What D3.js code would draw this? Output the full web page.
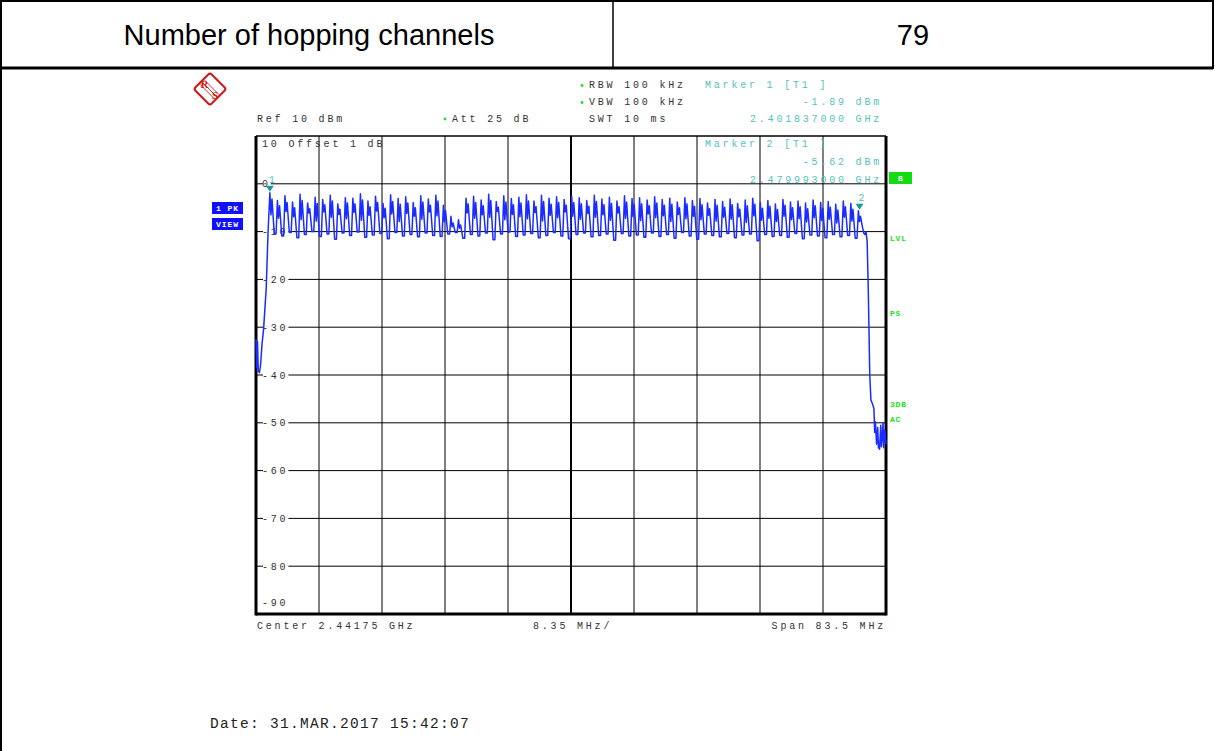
<!DOCTYPE html>
<html>
<head>
<meta charset="utf-8">
<script src="https://cdn.jsdelivr.net/npm/d3@7"></script>
<style>
  html, body { margin: 0; padding: 0; background: #fff; }
  svg { display: block; }
  .mono { font-family: "Liberation Mono", "DejaVu Sans Mono", monospace; font-size: 10px; letter-spacing: 2.8px; }
</style>
</head>
<body>
<svg id="chart" width="1215" height="751"></svg>
<script>
// ---------------- data ----------------
const headerLabels = ["Number of hopping channels", "79"];
const refLevel = 10, bottomLevel = -90;
const startFreq = 2400.0, stopFreq = 2483.5;         // MHz
const firstChannel = 2402;                            // MHz, 1 MHz spacing
const yTickValues = [10, 0, -10, -20, -30, -40, -50, -60, -70, -80, -90];
const yTickLabels = ["10", "0", "-10", "-20", "-30", "-40", "-50", "-60", "-70", "-80", "-90"];

// leading edge below the first channel [MHz, dBm]
const leadFreq = [2400.0, 2400.1, 2400.2, 2400.3, 2400.45, 2400.6, 2400.8, 2401.0, 2401.35, 2401.6];
const leadLevel = [-32.5, -38.5, -33.0, -39.2, -39.5, -38.0, -33.5, -30.5, -22.0, -10.0];

// per-channel peak-hold levels (79 channels)
const chanPeak = [-1.89,-3.5,-2.5,-3.8,-2.2,-4.0,-2.8,-3.3,-2.4,-4.2,
  -2.9,-3.0,-2.1,-3.6,-2.6,-4.1,-2.3,-3.1,-2.7,-3.9,
  -2.5,-3.2,-2.4,-4.5,-6.8,-7.5,-3.0,-2.6,-3.4,-2.2,
  -3.7,-2.5,-3.1,-2.8,-2.3,-3.6,-2.4,-3.0,-2.7,-3.3,
  -2.6,-2.9,-3.5,-2.4,-3.2,-2.8,-3.6,-2.5,-3.1,-2.9,
  -3.4,-2.7,-3.3,-3.0,-3.8,-2.9,-3.5,-3.1,-4.0,-3.3,
  -3.7,-3.2,-4.1,-3.4,-3.0,-3.9,-3.5,-4.2,-3.3,-3.8,
  -3.6,-4.0,-3.4,-3.9,-3.7,-4.3,-3.6,-4.1,-5.62];
// notch between the two humps of each channel
const chanMid = [-6.5,-7.2,-5.8,-6.9,-7.5,-6.1,-7.8,-5.9,-7.0,-6.4,
  -7.3,-6.0,-7.6,-6.6,-5.7,-7.1,-6.3,-7.9,-6.2,-6.8,
  -7.4,-5.9,-6.7,-8.0,-9.0,-9.3,-6.1,-7.2,-6.5,-7.0,
  -5.8,-7.5,-6.4,-6.9,-7.3,-6.0,-7.8,-6.6,-7.1,-5.9,
  -6.8,-7.4,-6.2,-7.0,-6.5,-7.6,-6.1,-7.2,-6.9,-7.7,
  -6.3,-7.1,-6.7,-7.9,-6.4,-7.3,-6.8,-7.5,-6.6,-7.8,
  -7.0,-7.4,-6.9,-8.1,-6.7,-7.6,-7.2,-7.9,-6.8,-7.5,
  -7.3,-8.0,-7.1,-7.7,-7.4,-8.2,-7.0,-7.8,-7.9];
// second hump of each channel
const chanKnee = [-3.2,-4.6,-3.9,-5.0,-3.5,-5.2,-4.1,-4.4,-3.6,-5.3,
  -4.0,-4.2,-3.4,-4.8,-3.9,-5.1,-3.7,-4.3,-4.0,-5.0,
  -3.8,-4.5,-3.6,-5.6,-8.2,-8.6,-4.2,-3.9,-4.6,-3.5,
  -4.9,-3.8,-4.4,-4.0,-3.6,-4.8,-3.7,-4.3,-3.9,-4.5,
  -3.9,-4.2,-4.7,-3.7,-4.4,-4.1,-4.8,-3.8,-4.3,-4.2,
  -4.6,-4.0,-4.5,-4.3,-5.0,-4.2,-4.7,-4.4,-5.2,-4.5,
  -4.9,-4.4,-5.3,-4.6,-4.3,-5.1,-4.7,-5.4,-4.5,-5.0,
  -4.8,-5.2,-4.6,-5.1,-4.9,-5.5,-4.8,-5.3,-6.8];
// level between adjacent channels (78 gaps)
const chanGap = [-10.4,-10.9,-10.2,-11.3,-10.6,-10.0,-11.0,-10.5,-11.6,-10.3,
  -10.8,-10.1,-11.2,-10.7,-10.4,-11.5,-10.2,-10.9,-10.6,-11.1,
  -10.3,-10.8,-11.0,-10.5,-10.2,-11.4,-10.6,-10.9,-10.3,-11.7,
  -10.5,-10.1,-11.0,-10.7,-10.4,-11.3,-10.8,-10.2,-10.9,-11.5,
  -10.6,-10.3,-11.1,-10.8,-10.5,-11.8,-10.4,-10.9,-10.7,-11.2,
  -10.3,-11.0,-10.6,-11.4,-10.2,-10.9,-11.6,-10.5,-10.8,-11.1,
  -10.4,-11.3,-10.7,-10.5,-11.9,-10.6,-11.0,-10.8,-11.2,-10.4,
  -11.5,-10.7,-10.9,-11.3,-10.6,-11.1,-10.8,-11.4];

// trailing edge above the last channel [MHz, dBm]
const trailFreq = [2480.35, 2480.55, 2480.7, 2480.85, 2481.0, 2481.15, 2481.35, 2481.5, 2481.7, 2481.9,
  2482.0, 2482.1, 2482.25, 2482.4, 2482.5, 2482.65, 2482.8, 2482.9, 2483.0, 2483.1, 2483.2, 2483.35, 2483.5];
const trailLevel = [-8.8, -10.3, -10.6, -10.0, -12.0, -22.0, -40.0, -45.2, -46.0, -47.0,
  -52.0, -49.8, -54.5, -51.0, -55.2, -55.5, -50.5, -55.0, -53.0, -50.0, -55.2, -51.5, -54.5];

// markers
const markerNames = ["1", "2"];
const markerFreq = [2401.837, 2479.993];
const markerLevel = [-1.89, -5.62];

// annotation texts
const topLeft = ["Ref  10 dBm"];
const settings = ["RBW 100 kHz", "VBW 100 kHz", "SWT 10 ms"];
const marker1Text = ["Marker 1 [T1 ]", "-1.89 dBm", "2.401837000 GHz"];
const marker2Text = ["Marker 2 [T1 ]", "-5.62 dBm", "2.479993000 GHz"];
const attText = "Att  25 dB";
const offsetText = "10 Offset  1 dB";
const bottomTexts = ["Center 2.44175 GHz", "8.35 MHz/", "Span 83.5 MHz"];
const sideTags = ["LVL", "PS", "3DB", "AC"];
const dateText = "Date: 31.MAR.2017  15:42:07";

// ---------------- drawing ----------------
const svg = d3.select("#chart");
const plot = { left: 256, right: 886, top: 136, bottom: 614 };
const x = d3.scaleLinear().domain([startFreq, stopFreq]).range([plot.left, plot.right]);
const y = d3.scaleLinear().domain([bottomLevel, refLevel]).range([plot.bottom, plot.top]);

// table frame
svg.append("rect").attr("x", 1).attr("y", 1).attr("width", 1212).attr("height", 67)
  .attr("fill", "none").attr("stroke", "#000").attr("stroke-width", 2);
svg.append("line").attr("x1", 613).attr("x2", 613).attr("y1", 1).attr("y2", 68)
  .attr("stroke", "#000").attr("stroke-width", 1.5);
svg.append("line").attr("x1", 1).attr("x2", 1).attr("y1", 1).attr("y2", 751)
  .attr("stroke", "#000").attr("stroke-width", 2);
svg.append("line").attr("x1", 1).attr("x2", 1213).attr("y1", 68).attr("y2", 68)
  .attr("stroke", "#000").attr("stroke-width", 3);
svg.append("text").attr("x", 309).attr("y", 45).attr("text-anchor", "middle")
  .attr("font-family", "Liberation Sans, Arial, sans-serif").attr("font-size", 29)
  .text(headerLabels[0]);
svg.append("text").attr("x", 913).attr("y", 45).attr("text-anchor", "middle")
  .attr("font-family", "Liberation Sans, Arial, sans-serif").attr("font-size", 29)
  .text(headerLabels[1]);

// R&S logo
const red = "#d01818";
const logo = svg.append("g").attr("transform", "translate(210,89)");
logo.append("rect").attr("x", -11.5).attr("y", -11.5).attr("width", 23).attr("height", 23).attr("rx", 2.5)
  .attr("transform", "rotate(45)").attr("fill", "#fff").attr("stroke", red).attr("stroke-width", 2);
[-2.2, 0, 2.2].forEach(o => logo.append("line")
  .attr("x1", -8 + o).attr("y1", -7 - o).attr("x2", 7 + o).attr("y2", 8 - o)
  .attr("stroke", red).attr("stroke-width", 0.9));
logo.append("text").attr("x", -5.5).attr("y", -1).attr("text-anchor", "middle").attr("font-weight", "bold")
  .attr("font-family", "Liberation Serif, serif").attr("font-size", 11).attr("fill", red).text("R");
logo.append("text").attr("x", 5).attr("y", 10).attr("text-anchor", "middle").attr("font-weight", "bold")
  .attr("font-family", "Liberation Serif, serif").attr("font-size", 11).attr("fill", red).text("S");

// header annotation texts
const dark = "#333";
const teal = "#55bfc0";
const green = "#22dd22";
svg.append("text").attr("class", "mono").attr("x", 257).attr("y", 122).attr("fill", dark).text(topLeft[0]);
svg.append("text").attr("class", "mono").attr("x", 452).attr("y", 122).attr("fill", dark).text(attText);
svg.append("circle").attr("cx", 445).attr("cy", 119).attr("r", 1.4).attr("fill", green);
const setY = [88, 105, 122];
settings.forEach((t, i) => {
  svg.append("text").attr("class", "mono").attr("x", 589).attr("y", setY[i]).attr("fill", dark).text(t);
  if (i < 2) svg.append("circle").attr("cx", 582).attr("cy", setY[i] - 2.5).attr("r", 1.4).attr("fill", green);
});
svg.append("text").attr("class", "mono").attr("x", 705).attr("y", 88).attr("fill", teal).text(marker1Text[0]);
svg.append("text").attr("class", "mono").attr("x", 882).attr("y", 105).attr("text-anchor", "end").attr("fill", teal).text(marker1Text[1]);
svg.append("text").attr("class", "mono").attr("x", 882).attr("y", 122).attr("text-anchor", "end").attr("fill", teal).text(marker1Text[2]);

// grid
const grid = svg.append("g");
const xTicks = d3.range(0, 11).map(i => startFreq + i * (stopFreq - startFreq) / 10);
grid.selectAll("line.v").data(xTicks.slice(1, 10)).join("line")
  .attr("x1", d => x(d)).attr("x2", d => x(d)).attr("y1", plot.top).attr("y2", plot.bottom)
  .attr("stroke", "#000").attr("stroke-width", (d, i) => i === 4 ? 2 : 1);
grid.selectAll("line.h").data(yTickValues.slice(1, 10)).join("line")
  .attr("x1", plot.left).attr("x2", plot.right).attr("y1", d => y(d)).attr("y2", d => y(d))
  .attr("stroke", "#000").attr("stroke-width", 1);

// marker 2 text inside grid
svg.append("text").attr("class", "mono").attr("x", 705).attr("y", 147).attr("fill", teal).text(marker2Text[0]);
svg.append("text").attr("class", "mono").attr("x", 882).attr("y", 165).attr("text-anchor", "end").attr("fill", teal).text(marker2Text[1]);
svg.append("text").attr("class", "mono").attr("x", 882).attr("y", 183).attr("text-anchor", "end").attr("fill", teal).text(marker2Text[2]);

// y labels with white background breaking the grid line
yTickValues.forEach((v, i) => {
  let ty = y(v) + 3.5;
  if (i === 0) ty = y(v) + 11;
  if (i === yTickValues.length - 1) ty = y(v) - 8;
  const lbl = yTickLabels[i];
  if (i > 0 && i < yTickValues.length - 1) {
    svg.append("rect").attr("x", 263).attr("y", y(v) - 1).attr("width", lbl.length * 8.8 - 1).attr("height", 2).attr("fill", "#fff");
  }
  svg.append("text").attr("class", "mono").attr("x", 262).attr("y", ty).attr("fill", dark)
    .text(i === 0 ? offsetText : lbl);
});

// frame
svg.append("line").attr("x1", plot.left).attr("x2", plot.right).attr("y1", plot.top).attr("y2", plot.top)
  .attr("stroke", "#000").attr("stroke-width", 1.5);
svg.append("line").attr("x1", plot.left).attr("x2", plot.left).attr("y1", plot.top).attr("y2", plot.bottom + 1.5)
  .attr("stroke", "#000").attr("stroke-width", 3);
svg.append("line").attr("x1", plot.right).attr("x2", plot.right).attr("y1", plot.top).attr("y2", plot.bottom + 1.5)
  .attr("stroke", "#000").attr("stroke-width", 3);
svg.append("line").attr("x1", plot.left).attr("x2", plot.right).attr("y1", plot.bottom).attr("y2", plot.bottom)
  .attr("stroke", "#000").attr("stroke-width", 3);

// trace points
const pts = [];
leadFreq.forEach((f, i) => pts.push([f, leadLevel[i]]));
chanPeak.forEach((p, i) => {
  const fc = firstChannel + i;
  pts.push([fc - 0.16, p]);
  pts.push([fc - 0.02, chanMid[i]]);
  pts.push([fc + 0.12, chanKnee[i]]);
  if (i < chanGap.length) {
    pts.push([fc + 0.42, chanGap[i]]);
    pts.push([fc + 0.66, chanGap[i]]);
  }
});
trailFreq.forEach((f, i) => pts.push([f, trailLevel[i]]));

svg.append("path").datum(pts)
  .attr("d", d3.line().x(d => x(d[0])).y(d => y(d[1])))
  .attr("fill", "none").attr("stroke", "#1a2cff").attr("stroke-width", 1.5).attr("stroke-linejoin", "round");

// markers
markerFreq.forEach((f, i) => {
  const mx = x(f), my = y(markerLevel[i]);
  svg.append("path").attr("d", `M${mx - 4},${my - 7} L${mx + 4},${my - 7} L${mx},${my - 1} Z`).attr("fill", "#1a9a9a");
  svg.append("text").attr("class", "mono").attr("x", mx - 1).attr("y", my - 10).attr("fill", teal)
    .attr("font-size", 9).text(markerNames[i]);
});

// side tags
svg.append("rect").attr("x", 889).attr("y", 172).attr("width", 23).attr("height", 12).attr("fill", "#11dd11");
svg.append("text").attr("x", 900.5).attr("y", 181).attr("text-anchor", "middle").attr("fill", "#fff")
  .attr("font-family", "Liberation Mono, monospace").attr("font-weight", "bold").attr("font-size", 8).text("B");
const tagY = [241, 316, 407, 422];
sideTags.forEach((t, i) => svg.append("text").attr("x", 890).attr("y", tagY[i]).attr("fill", green)
  .attr("font-family", "Liberation Mono, monospace").attr("font-weight", "bold").attr("font-size", 8)
  .attr("letter-spacing", 0.8).text(t));

// trace label boxes
const boxTexts = ["1 PK", "VIEW"];
const boxY = [202, 218];
boxTexts.forEach((t, i) => {
  svg.append("rect").attr("x", 212).attr("y", boxY[i]).attr("width", 31).attr("height", 12).attr("fill", "#1010ff");
  svg.append("text").attr("x", 227.5).attr("y", boxY[i] + 9).attr("text-anchor", "middle").attr("fill", "#fff")
    .attr("font-family", "Liberation Mono, monospace").attr("font-weight", "bold").attr("font-size", 8)
    .attr("letter-spacing", 1).text(t);
});

// bottom texts
svg.append("text").attr("class", "mono").attr("x", 257).attr("y", 629).attr("fill", dark).text(bottomTexts[0]);
svg.append("text").attr("class", "mono").attr("x", 533).attr("y", 629).attr("fill", dark).text(bottomTexts[1]);
svg.append("text").attr("class", "mono").attr("x", 886).attr("y", 629).attr("text-anchor", "end").attr("fill", dark).text(bottomTexts[2]);

// date
svg.append("text").attr("x", 210).attr("y", 728).attr("fill", "#222")
  .attr("font-family", "Liberation Mono, monospace").attr("font-size", 14.5).attr("letter-spacing", 1.3)
  .text(dateText);
</script>
</body>
</html>
